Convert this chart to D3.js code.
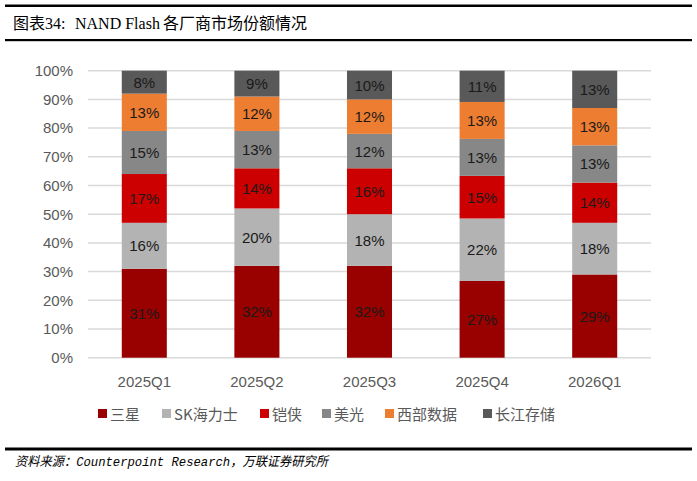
<!DOCTYPE html>
<html><head><meta charset="utf-8">
<script src="https://cdn.jsdelivr.net/npm/d3@7"></script>
<style>body{margin:0;background:#fff}svg{display:block}</style>
</head><body><svg id="c" width="697" height="481"></svg>
<script>
const categories = ["2025Q1","2025Q2","2025Q3","2025Q4","2026Q1"];
const seriesNames = ["三星","SK海力士","铠侠","美光","西部数据","长江存储"];
const samsung = [31,32,32,27,29];
const skhynix = [16,20,18,22,18];
const kioxia  = [17,14,16,15,14];
const micron  = [15,13,12,13,13];
const wd      = [13,12,12,13,13];
const ymtc    = [8,9,10,11,13];
const yTicks = [0,0.1,0.2,0.3,0.4,0.5,0.6,0.7,0.8,0.9,1];
const colors = ["#990000","#b3b3b3","#cc0000","#878787","#ed7d31","#595959"];

const seriesVals = [samsung, skhynix, kioxia, micron, wd, ymtc];
const table = categories.map((c,i)=>{const o={cat:c}; seriesNames.forEach((s,j)=>o[s]=seriesVals[j][i]); return o;});
const stack = d3.stack().keys(seriesNames).offset(d3.stackOffsetExpand)(table);

const svg = d3.select("#c");
const x = d3.scaleBand().domain(categories).range([88,651]).paddingInner(0.6).paddingOuter(0.3);
const y = d3.scaleLinear().domain([0,1]).range([357.7,70.7]);

// header
svg.append("rect").attr("x",5).attr("y",4.5).attr("width",687).attr("height",2.5).attr("fill","#000");
svg.append("rect").attr("x",5).attr("y",39).attr("width",687).attr("height",2.2).attr("fill","#000");
const tf = "'Liberation Serif','Noto Sans CJK SC',serif";
svg.append("text").attr("x",13).attr("y",29).style("font-family",tf).style("font-size","16px").text("图表34:");
svg.append("text").attr("x",75).attr("y",29).style("font-family",tf).style("font-size","16px").text("NAND Flash");
svg.append("text").attr("x",163).attr("y",29).style("font-family",tf).style("font-size","16px").text("各厂商市场份额情况");

// grid
svg.append("g").selectAll("line").data(yTicks).join("line")
  .attr("x1",88).attr("x2",651).attr("y1",d=>y(d)).attr("y2",d=>y(d))
  .attr("stroke","#d9d9d9").attr("stroke-width",1.5);

// y axis
const yAxis = svg.append("g").attr("transform","translate(88,0)")
  .call(d3.axisLeft(y).tickValues(yTicks).tickFormat(d3.format(".0%")).tickSize(0).tickPadding(15));
yAxis.select(".domain").remove();
yAxis.selectAll("text").attr("fill","#595959").style("font-family","'Liberation Sans',Arial,sans-serif").style("font-size","15px");

// x axis
const xAxis = svg.append("g").attr("transform","translate(0,357.7)")
  .call(d3.axisBottom(x).tickSize(0).tickPadding(19));
xAxis.select(".domain").remove();
xAxis.selectAll("text").attr("fill","#595959").style("font-family","'Liberation Sans',Arial,sans-serif").style("font-size","15px");

// bars
const g = svg.append("g");
stack.forEach((s,j)=>{
  const sg = g.append("g");
  sg.selectAll("rect").data(s).join("rect")
    .attr("x",d=>x(d.data.cat)).attr("width",x.bandwidth())
    .attr("y",d=>y(d[1])).attr("height",d=>y(d[0])-y(d[1]))
    .attr("fill",colors[j]);
  sg.selectAll("text").data(s).join("text")
    .attr("x",d=>x(d.data.cat)+x.bandwidth()/2)
    .attr("y",d=>(y(d[0])+y(d[1]))/2+5.5)
    .attr("text-anchor","middle").attr("fill","#1a1a1a")
    .style("font-family","'Liberation Sans',Arial,sans-serif").style("font-size","15px")
    .text(d=>d.data[seriesNames[j]]+"%");
});

// legend
const legX = [98,162,260,322,385,483];
const lg = svg.append("g");
seriesNames.forEach((s,j)=>{
  lg.append("rect").attr("x",legX[j]).attr("y",409).attr("width",9).attr("height",9).attr("fill",colors[j]);
  lg.append("text").attr("x",legX[j]+12).attr("y",419.5).attr("fill","#595959")
    .style("font-family","'Noto Sans CJK SC','Liberation Sans',sans-serif").style("font-size","15px").text(s);
});

// footer
svg.append("rect").attr("x",5).attr("y",447.5).attr("width",687).attr("height",3).attr("fill","#000");
svg.append("text").attr("x",15).attr("y",466).attr("textLength",313).attr("lengthAdjust","spacingAndGlyphs")
  .style("font-family","'Liberation Mono','Noto Sans CJK SC',monospace").style("font-style","italic").style("font-size","13px")
  .attr("fill","#000").text("资料来源：Counterpoint Research，万联证券研究所");
</script></body></html>
